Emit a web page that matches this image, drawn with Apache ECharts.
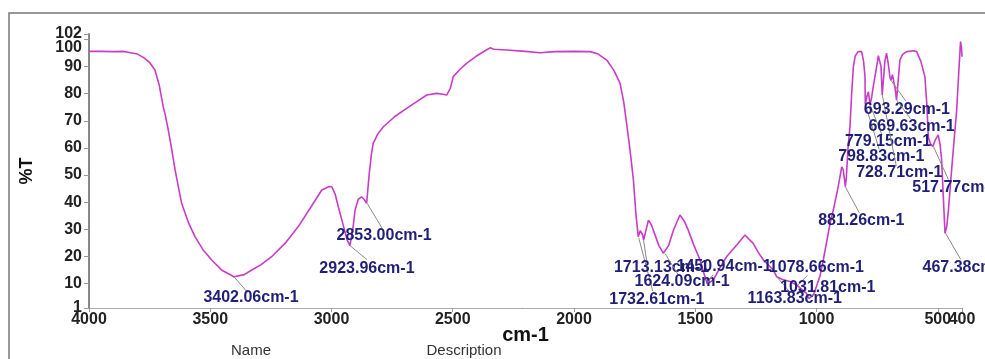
<!DOCTYPE html>
<html>
<head>
<meta charset="utf-8">
<script src="https://cdn.jsdelivr.net/npm/echarts@6/dist/echarts.min.js"></script>
<style>
  html, body { margin: 0; padding: 0; background: #fff; }
  #figureOne { width: 985px; height: 359px; }
</style>
</head>
<body>
<div id="figureOne"></div>
<script>
// spectrum (wavenumber cm-1, %T)
var wavenumbers = [4000, 3950, 3900, 3860, 3852, 3840, 3800, 3776, 3750, 3728, 3710, 3694, 3685, 3673, 3660, 3645, 3630, 3618, 3590, 3563,
  3530, 3494, 3450, 3402, 3360, 3329, 3290, 3247, 3190, 3137, 3090, 3040, 3010, 2999, 2985, 2972, 2950, 2935, 2924, 2912,
  2903, 2890, 2876, 2865, 2855, 2845, 2835, 2828, 2810, 2786, 2740, 2690, 2650, 2607, 2566, 2540, 2525, 2510, 2498, 2470,
  2443, 2400, 2360, 2346, 2330, 2278, 2200, 2140, 2080, 2000, 1934, 1900, 1865, 1835, 1810, 1795, 1783, 1770, 1755, 1745,
  1735, 1732, 1727, 1721, 1717, 1713, 1705, 1693, 1680, 1673, 1650, 1632, 1624, 1610, 1590, 1563, 1545, 1529, 1505, 1480,
  1465, 1451, 1440, 1426, 1400, 1371, 1329, 1295, 1280, 1261, 1240, 1219, 1178, 1164, 1140, 1110, 1082, 1079, 1060, 1041,
  1032, 1013, 1000, 985, 972, 944, 931, 912, 896, 890, 884, 881, 877, 870, 862, 855, 848, 840, 828, 814,
  806, 800, 798.8, 792, 786, 779, 772, 766, 752, 745, 738, 734, 729, 724, 718, 711, 704, 697, 693, 687,
  683, 676, 670, 663, 656, 645, 628, 600, 587, 570, 553, 545, 539, 530, 520, 510, 498, 490, 484, 476,
  470, 463, 456, 440, 422, 412, 406, 402, 400];
var transmittance = [95.6, 95.6, 95.5, 95.6, 96.0, 95.3, 94.6, 93.4, 91.5, 88.7, 83, 75.2, 72, 66.6, 60, 51.9, 45, 39.6, 32.5, 27.3,
  22.5, 18.7, 14.8, 12.5, 13.3, 15, 17, 19.9, 25, 31, 37.5, 44.5, 45.8, 45.7, 43, 38.3, 31, 26, 24, 30,
  37, 41, 42, 41, 39.6, 50, 58, 61.7, 65, 67.8, 71.5, 74.6, 77, 79.5, 80.1, 79.8, 79.5, 82, 86.3, 89,
  91.2, 94, 96.2, 96.9, 96.4, 96.1, 95.6, 95.1, 95.5, 95.6, 95.5, 94.6, 92.4, 88.5, 83.8, 77, 69, 60, 48.2, 36,
  27.3, 26.7, 29.5, 29.7, 28, 26, 29, 33.4, 31.5, 29.7, 24, 21.2, 21, 24, 29.7, 35.3, 33, 29.7, 24, 18.7,
  14, 10, 10.5, 11.3, 15.5, 19.9, 24.2, 27.9, 26.5, 24.8, 21.5, 18.7, 15, 12.5, 11.5, 10.8, 9.5, 9.3, 7.8, 6.4,
  4.5, 5.8, 9, 13, 18.7, 32.2, 37, 45, 53, 52, 48, 45.7, 49, 60, 67.8, 80, 90, 94, 95.5, 95.5,
  92, 86.3, 76, 79, 80.7, 75.8, 79, 82.6, 90, 94, 94.3, 90, 79.5, 85, 92, 94.9, 91, 86, 85, 87,
  86.3, 82, 77.7, 85, 92.4, 94.5, 95.5, 95.8, 95.5, 92, 86.3, 76, 64, 61.5, 60.5, 63, 64.8, 61, 55.5, 40,
  28.5, 31, 37, 55, 74, 90, 99.2, 97, 93.6];

// labelled peaks
var peakWavenumbers = [3402.06, 2923.96, 2853.00, 1732.61, 1713.13, 1624.09, 1450.94, 1163.83, 1078.66, 1031.81,
  881.26, 798.83, 779.15, 728.71, 693.29, 669.63, 517.77, 467.38];
var peakValues = [12.5, 24, 39.6, 26.7, 26, 21, 10, 12.5, 9.3, 4.5, 45.7, 76, 75.8, 79.5, 85, 77.7, 60.5, 28.5];

var xTicks = [4000, 3500, 3000, 2500, 2000, 1500, 1000, 500, 400];
var yTicks = [1, 10, 20, 30, 40, 50, 60, 70, 80, 90, 100, 102];
// labels that sit too close to a neighbour go on a helper axis
var xLabelsMain = [4000, 3500, 3000, 2500, 2000, 1500, 1000, 400];
var xLabelsExtra = [500];
var yLabelsMain = [1, 10, 20, 30, 40, 50, 60, 70, 80, 90, 102];
var yLabelsExtra = [100];

// label placement: text dx, dy, leader end dx, dy (pixels from the peak)
var labelOffsets = [
  [17, 21, 14, 16], [17, 23, 17, 14], [17, 32, 15, 25], [18, 61, 14, 53], [18, 27, 3, 20], [17, 28, 13, 21],
  [17, -17, 6, -9], [18, 22, 13, 15], [19, -18, 10, -10], [19, -11, 6, -6], [16, 34, 14, 26], [16, 52, 14, 45],
  [18, 37, 12, 30], [17, 78, 14, 71], [16, 29, 15, 21], [15, 27, 14, 19], [22, 41, 15, 33], [20, 34, 15, 26]
];

var spectrum = wavenumbers.map(function (w, i) { return [w, transmittance[i]]; });
var peaks = peakWavenumbers.map(function (w, i) { return [w, peakValues[i]]; });

var myChart = echarts.init(document.getElementById('figureOne'));
var font = '"Liberation Sans", Arial, sans-serif';
var tickFont = { fontFamily: font, fontWeight: 'bold', fontSize: 16, color: '#222' };

var option = {
  animation: false,
  backgroundColor: '#fff',
  grid: { left: 89, right: 23, top: 34, bottom: 51 },
  xAxis: [
    {
      type: 'value',
      inverse: true,
      min: 400,
      max: 4000,
      name: 'cm-1',
      nameLocation: 'middle',
      nameGap: 17,
      nameMoveOverlap: false,
      nameTextStyle: { fontFamily: font, fontWeight: 'bold', fontSize: 20, color: '#111' },
      axisLine: { lineStyle: { color: '#aaa', width: 1 } },
      axisTick: { customValues: xTicks, length: 4, lineStyle: { color: '#999' } },
      axisLabel: Object.assign({
        customValues: xLabelsMain, showMinLabel: true, showMaxLabel: true, hideOverlap: false, margin: 4,
        formatter: function (v) { return String(v); }
      }, tickFont),
      splitLine: { show: false }
    },
    {
      type: 'value',
      inverse: true,
      min: 400,
      max: 4000,
      position: 'bottom',
      axisLine: { show: false },
      axisTick: { show: false },
      axisLabel: Object.assign({
        customValues: xLabelsExtra, margin: 4,
        formatter: function (v) { return String(v); }
      }, tickFont),
      splitLine: { show: false }
    }
  ],
  yAxis: [
    {
      type: 'value',
      min: 1,
      max: 102,
      name: '%T',
      nameLocation: 'middle',
      nameRotate: 90,
      nameGap: 53,
      nameMoveOverlap: false,
      nameTextStyle: { fontFamily: font, fontWeight: 'bold', fontSize: 18, color: '#111' },
      axisLine: { show: true, lineStyle: { color: '#888', width: 2 } },
      axisTick: { show: true, customValues: yTicks, length: 5, lineStyle: { color: '#999' } },
      axisLabel: Object.assign({
        customValues: yLabelsMain, showMinLabel: true, showMaxLabel: true, hideOverlap: false, margin: 7
      }, tickFont),
      splitLine: { show: false }
    },
    {
      type: 'value',
      min: 1,
      max: 102,
      position: 'left',
      axisLine: { show: false },
      axisTick: { show: false },
      axisLabel: Object.assign({
        customValues: yLabelsExtra, margin: 7,
        formatter: function (v) { return '{low|' + v + '}'; },
        rich: { low: Object.assign({ padding: [17, 0, 0, 0] }, tickFont) }
      }, tickFont),
      splitLine: { show: false }
    }
  ],
  graphic: [
    { type: 'rect', shape: { x: 9, y: 13, width: 1000, height: 400 }, style: { fill: 'none', stroke: '#777', lineWidth: 1.5 }, silent: true },
    { type: 'text', style: { text: 'Name', x: 251, y: 351, align: 'center', verticalAlign: 'middle', font: '15px ' + font, fill: '#333' } },
    { type: 'text', style: { text: 'Description', x: 464, y: 351, align: 'center', verticalAlign: 'middle', font: '15px ' + font, fill: '#333' } }
  ],
  series: [
    {
      type: 'line',
      data: spectrum,
      showSymbol: false,
      lineStyle: { color: '#c83cc8', width: 1.6 },
      z: 2
    },
    {
      type: 'custom',
      data: peaks,
      z: 3,
      renderItem: function (params, api) {
        var p = api.coord([api.value(0), api.value(1)]);
        var o = labelOffsets[params.dataIndex];
        return {
          type: 'group',
          children: [
            {
              type: 'line',
              shape: { x1: p[0], y1: p[1], x2: p[0] + o[2], y2: p[1] + o[3] },
              style: { stroke: '#8a8a8a', lineWidth: 1 }
            },
            {
              type: 'text',
              style: {
                text: peakWavenumbers[params.dataIndex].toFixed(2) + 'cm-1',
                x: p[0] + o[0], y: p[1] + o[1],
                align: 'center', verticalAlign: 'middle',
                font: 'bold 16px ' + font, fill: '#1f1f78'
              }
            }
          ]
        };
      }
    }
  ]
};

myChart.setOption(option);
</script>
</body>
</html>
